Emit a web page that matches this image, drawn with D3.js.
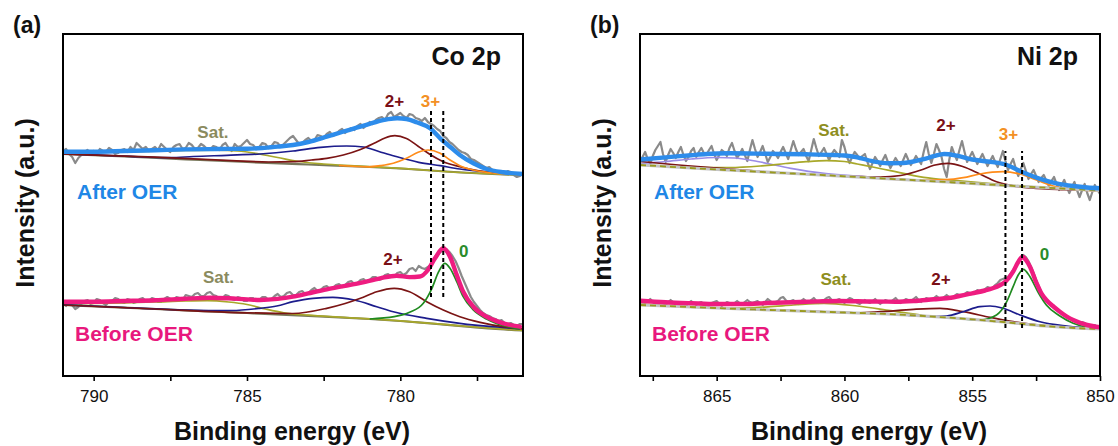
<!DOCTYPE html>
<html><head><meta charset="utf-8">
<script src="https://cdn.jsdelivr.net/npm/d3@7"></script>
<style>
body{margin:0;background:#fff;}
text{font-family:"Liberation Sans",Arial,sans-serif;}
</style>
</head><body>
<svg id="chart" width="1118" height="446"></svg>
<script>
// ---------------- DATA (binding energy eV, intensity a.u.) ----------------
// Panel (a) Co 2p
const coTicks = [790, 787.5, 785, 782.5, 780, 777.5];
const coRawAfter = [[791.0,225],[790.9,227],[790.8,222],[790.7,219],[790.6,213],[790.5,218],[790.4,221],[790.3,224],[790.2,226],[790.1,223],[790.0,225],[789.9,222],[789.8,227],[789.7,225],[789.6,224],[789.5,228],[789.4,226],[789.3,222],[789.2,223],[789.1,226],[789.0,227],[788.9,224],[788.8,229],[788.7,226],[788.6,233],[788.5,230],[788.4,227],[788.3,229],[788.2,225],[788.1,227],[788.0,229],[787.9,226],[787.8,232],[787.7,229],[787.6,226],[787.5,224],[787.4,229],[787.3,231],[787.2,232],[787.1,227],[787.0,228],[786.9,233],[786.8,231],[786.7,227],[786.6,228],[786.5,232],[786.4,230],[786.3,227],[786.2,226],[786.1,230],[786.0,229],[785.9,226],[785.8,231],[785.7,233],[785.6,228],[785.5,225],[785.4,232],[785.3,229],[785.2,230],[785.1,233],[785.0,236],[784.9,232],[784.8,231],[784.7,227],[784.6,229],[784.5,233],[784.4,232],[784.3,228],[784.2,230],[784.1,234],[784.0,233],[783.9,229],[783.8,232],[783.7,235],[783.6,238],[783.5,240],[783.4,236],[783.3,232],[783.2,233],[783.1,236],[783.0,238],[782.9,235],[782.8,236],[782.7,241],[782.6,240],[782.5,238],[782.4,242],[782.3,244],[782.2,240],[782.1,242],[782.0,245],[781.9,247],[781.8,243],[781.7,246],[781.6,248],[781.5,246],[781.4,250],[781.3,252],[781.2,248],[781.1,251],[781.0,254],[780.9,252],[780.8,256],[780.7,258],[780.6,259],[780.5,256],[780.4,262],[780.3,264],[780.2,259],[780.1,261],[780.0,263],[779.9,260],[779.8,258],[779.7,262],[779.6,261],[779.5,258],[779.4,257],[779.3,255],[779.2,258],[779.1,254],[779.0,252],[778.9,250],[778.8,247],[778.7,245],[778.6,240],[778.5,238],[778.4,234],[778.3,232],[778.2,229],[778.1,226],[778.0,224],[777.9,223],[777.8,221],[777.7,217],[777.6,216],[777.5,214],[777.4,212],[777.3,210],[777.2,208],[777.1,209],[777.0,206],[776.9,204],[776.8,205],[776.7,203],[776.6,202],[776.5,205],[776.4,204],[776.3,201],[776.2,199],[776.1,200],[776.0,203]];
const coEnvAfter = [[791,224.3],[790,224.3],[789,225],[788,225.8],[787,226.6],[786,227],[785,227.3],[784.5,228],[784,229.4],[783.5,231],[783,234],[782.4,239.3],[781.9,244],[781.3,249.3],[780.8,254],[780.4,256.8],[780.1,257.8],[779.8,257],[779.47,253.7],[779.03,247.7],[778.7,237.7],[778.38,229.3],[778.06,221],[777.62,212.7],[777.19,207],[776.64,203.7],[776,202]];
const coBgAfter = [[791,222],[789,219.5],[787,216.7],[785,214],[783,211.5],[781,209],[780,207.5],[779,205.5],[778,203.5],[777,202],[776,201]];
const coSatAfter = [[791,223.3],[790,223.7],[789,224.2],[788,224.8],[787,225.5],[786,225.8],[785.3,225],[784.6,222],[784,218.5],[783.3,214.5],[782.5,212],[781.5,210.2],[780,207.6],[778,203.5],[776,201]];
const coNavyAfter = [[791,222.2],[789,219.8],[787.5,218.3],[786.75,219.5],[785.66,220.7],[784.58,222],[783.5,225],[782.6,228.7],[781.75,230],[781.2,229],[780.7,224.5],[780.2,220],[779.4,213.7],[778.7,210.3],[778.06,207],[777,203.7],[776.1,201.7]];
const co2After = [[791,222],[788,218.8],[785.5,215.4],[784.3,214],[783.5,214.3],[782.9,216],[782.4,217.7],[781.86,221],[781.3,226.5],[780.8,233.5],[780.5,238],[780.18,240.3],[779.8,237.5],[779.42,229.8],[779.03,221.5],[778.6,214.3],[778.06,209.3],[777.4,205],[776.64,202.7],[776,201.5]];
const co3After = [[782,210.5],[781,209.2],[780.66,210.3],[780.23,212.7],[779.8,217.7],[779.42,223.7],[779.1,226],[778.7,222.7],[778.38,216],[778.06,210.3],[777.62,206],[777,203],[776,201.2]];

const coRawBefore = [[791.0,73],[790.9,70],[790.8,75],[790.7,71],[790.6,67],[790.5,69],[790.4,72],[790.3,75],[790.2,76],[790.1,72],[790.0,73],[789.9,77],[789.8,76],[789.7,73],[789.6,71],[789.5,74],[789.4,75],[789.3,78],[789.2,77],[789.1,74],[789.0,73],[788.9,77],[788.8,76],[788.7,73],[788.6,74],[788.5,77],[788.4,78],[788.3,75],[788.2,75],[788.1,78],[788.0,77],[787.9,74],[787.8,74],[787.7,77],[787.6,79],[787.5,77],[787.4,76],[787.3,79],[787.2,78],[787.1,76],[787.0,81],[786.9,80],[786.8,79],[786.7,82],[786.6,83],[786.5,80],[786.4,80],[786.3,83],[786.2,84],[786.1,81],[786.0,80],[785.9,77],[785.8,78],[785.7,81],[785.6,80],[785.5,77],[785.4,76],[785.3,79],[785.2,78],[785.1,75],[785.0,75],[784.9,78],[784.8,78],[784.7,75],[784.6,76],[784.5,79],[784.4,79],[784.3,76],[784.2,77],[784.1,80],[784.0,82],[783.9,79],[783.8,80],[783.7,83],[783.6,84],[783.5,81],[783.4,81],[783.3,84],[783.2,85],[783.1,82],[783.0,83],[782.9,86],[782.8,88],[782.7,85],[782.6,86],[782.5,89],[782.4,90],[782.3,87],[782.2,88],[782.1,91],[782.0,92],[781.9,89],[781.8,91],[781.7,94],[781.6,95],[781.5,92],[781.4,93],[781.3,96],[781.2,97],[781.1,94],[781.0,96],[780.9,99],[780.8,99],[780.7,96],[780.6,97],[780.5,101],[780.4,102],[780.3,99],[780.2,99],[780.1,103],[780.0,104],[779.9,101],[779.8,103],[779.7,107],[779.6,108],[779.5,105],[779.4,110],[779.3,108],[779.2,107],[779.1,109],[779.0,111],[778.9,116],[778.8,120],[778.7,124],[778.6,126],[778.5,127],[778.4,124],[778.3,120],[778.2,115],[778.1,108],[778.0,100],[777.9,93],[777.8,86],[777.7,79],[777.6,74],[777.5,70],[777.4,66],[777.3,63],[777.2,61],[777.1,60],[777.0,58],[776.9,57],[776.8,55],[776.7,56],[776.6,53],[776.5,52],[776.4,53],[776.3,51],[776.2,50],[776.1,52],[776.0,52]];
const coEnvBefore = [[791,74.3],[790,74.3],[789,75],[788,75.8],[787,77.3],[786.2,78.3],[785.6,77.7],[785,76.6],[784.58,76],[784,77.1],[783.5,79.3],[783,82.7],[782.4,86.7],[781.8,90.2],[781.3,93.2],[780.66,97.7],[780.12,100.3],[779.7,98.9],[779.36,99.5],[779.1,106],[778.87,117.7],[778.6,127.7],[778.38,119.3],[778.16,101],[777.95,84.3],[777.62,69.3],[777.19,59.3],[776.64,52.7],[776.1,49.3]];
const coBgBefore = [[791,71],[789,68.3],[787,65.7],[785,63],[783,60.2],[781,57],[780,55],[779,52.5],[778,49.8],[777,47.3],[776,45.5]];
const coSatBefore = [[791,72],[790,72.5],[789,73.2],[788,74],[787,75],[786.3,75.3],[785.6,74],[785,71.5],[784.4,67],[783.8,63.2],[783,60.8],[782,58.8],[780,55.2],[778,50],[776,45.5]];
const coNavyBefore = [[791,71.2],[789,68.5],[787,66],[785.5,65.5],[784.58,67.7],[784.03,70],[783.5,74.3],[782.85,77.7],[782.2,78.7],[781.5,76],[780.77,69.3],[780.23,64.3],[779.14,57.7],[778.06,52.7],[777,49.3],[776.1,47.3]];
const co2Before = [[791,71],[788,67],[785,63.2],[783.5,62.5],[782.4,67.7],[781.8,72.5],[781.3,77.7],[780.77,84.3],[780.2,87.7],[779.7,84.3],[779.14,74.3],[778.6,66],[778.06,59.3],[777.4,53.7],[776.64,49.3],[776,47]];
const co0Before = [[781,57],[780.2,59.3],[779.7,63.7],[779.25,72.7],[778.97,87.7],[778.75,104.3],[778.55,112.7],[778.38,107.7],[778.16,94.3],[777.95,79.3],[777.62,66],[777.19,57],[776.64,50.3],[776.1,47]];
const coMarkers = [779.0, 778.6];          // dashed reference energies
const coMarkerSpan = [79, 265];            // intensity span of dashed lines

// Panel (b) Ni 2p
const niTicks = [867.5, 865, 862.5, 860, 857.5, 855, 852.5, 850];
const niRawAfter = [[868.0,214],[867.9,219],[867.8,224],[867.7,217],[867.6,212],[867.5,220],[867.4,226],[867.3,230],[867.2,234],[867.1,222],[867.0,214],[866.9,221],[866.8,227],[866.7,223],[866.6,218],[866.5,224],[866.4,229],[866.3,221],[866.2,215],[866.1,219],[866.0,225],[865.9,228],[865.8,219],[865.7,224],[865.6,228],[865.5,223],[865.4,221],[865.3,226],[865.2,230],[865.1,222],[865.0,216],[864.9,221],[864.8,226],[864.7,224],[864.6,220],[864.5,228],[864.4,233],[864.3,225],[864.2,218],[864.1,222],[864.0,227],[863.9,221],[863.8,215],[863.7,226],[863.6,236],[863.5,227],[863.4,219],[863.3,224],[863.2,230],[863.1,222],[863.0,214],[862.9,219],[862.8,225],[862.7,222],[862.6,218],[862.5,224],[862.4,229],[862.3,223],[862.2,217],[862.1,226],[862.0,235],[861.9,227],[861.8,221],[861.7,224],[861.6,227],[861.5,220],[861.4,215],[861.3,226],[861.2,237],[861.1,228],[861.0,220],[860.9,224],[860.8,228],[860.7,222],[860.6,216],[860.5,222],[860.4,226],[860.3,223],[860.2,219],[860.1,236],[860.0,229],[859.9,219],[859.8,213],[859.7,219],[859.6,224],[859.5,221],[859.4,217],[859.3,220],[859.2,222],[859.1,214],[859.0,207],[858.9,213],[858.8,219],[858.7,215],[858.6,210],[858.5,216],[858.4,221],[858.3,214],[858.2,208],[858.1,213],[858.0,218],[857.9,214],[857.8,210],[857.7,216],[857.6,222],[857.5,216],[857.4,211],[857.3,215],[857.2,220],[857.1,216],[857.0,212],[856.9,224],[856.8,234],[856.7,222],[856.6,213],[856.5,222],[856.4,232],[856.3,226],[856.2,219],[856.1,207],[856.0,199],[855.9,216],[855.8,229],[855.7,222],[855.6,216],[855.5,226],[855.4,235],[855.3,224],[855.2,214],[855.1,219],[855.0,224],[854.9,218],[854.8,212],[854.7,217],[854.6,222],[854.5,216],[854.4,210],[854.3,215],[854.2,220],[854.1,214],[854.0,209],[853.9,217],[853.8,225],[853.7,215],[853.6,206],[853.5,212],[853.4,217],[853.3,208],[853.2,200],[853.1,207],[853.0,213],[852.9,205],[852.8,197],[852.7,202],[852.6,206],[852.5,200],[852.4,194],[852.3,198],[852.2,201],[852.1,195],[852.0,190],[851.9,195],[851.8,199],[851.7,192],[851.6,186],[851.5,191],[851.4,196],[851.3,189],[851.2,183],[851.1,189],[851.0,194],[850.9,186],[850.8,179],[850.7,186],[850.6,192],[850.5,183],[850.4,176],[850.3,184],[850.2,191],[850.1,186],[850.0,182]];
const niEnvAfter = [[868,216.5],[867,218.6],[866,220.8],[865.4,222],[864.5,222.7],[863.5,222.4],[862.5,222],[861.5,221.7],[860.4,221],[860,220.5],[859.5,218.7],[858.9,214.8],[858.3,212.8],[857.8,212.9],[857.3,214.5],[856.9,216.8],[856.5,219.8],[856.1,222],[855.6,220.3],[855,216.5],[854.4,214.5],[853.7,211.5],[853.07,204.3],[852.35,197.2],[851.7,192.7],[851.05,190],[850.5,188.5],[850,187.7]];
const niBgAfter = [[868,211],[865,206.5],[862,202.5],[859,198.3],[856,194],[853,189.5],[850,185.5]];
const niLavAfter = [[868,212.5],[867,214.5],[866,217],[865,218.5],[864.3,218],[863.4,214.5],[862.1,207.7],[860.8,202.7],[859.5,200],[858.2,197.5],[856,194],[853,189.5],[850,185.5]];
const niSatAfter = [[868,211.5],[866,209],[864.5,208.5],[863.3,210],[862.3,212.5],[861.5,214.3],[860.7,215.3],[860,214.5],[859.5,212],[858.8,208.5],[858.2,205.3],[856.9,198.7],[855.6,195.3],[853,189.8],[850,185.5]];
const ni2After = [[868,214.5],[866.5,211],[865,208],[863,204],[861,201],[859.5,199.5],[858.6,199],[857.8,200.5],[857,206],[856.5,210.7],[855.95,212.7],[855.35,209.3],[854.7,202],[854.05,194.3],[853.4,190.2],[852.7,188],[851.4,186.3],[850,185.5]];
const ni3After = [[858.5,197.5],[857.3,195.8],[856,196.3],[855.35,198.3],[854.7,202],[853.8,204.3],[853.13,202],[852.48,196],[851.83,190],[851.05,186.7],[850,185.3]];

const niRawBefore = [[868.0,76],[867.9,74],[867.8,73],[867.7,75],[867.6,77],[867.5,74],[867.4,72],[867.3,74],[867.2,75],[867.1,73],[867.0,71],[866.9,74],[866.8,76],[866.7,74],[866.6,72],[866.5,73],[866.4,74],[866.3,72],[866.2,70],[866.1,73],[866.0,75],[865.9,73],[865.8,71],[865.7,73],[865.6,74],[865.5,71],[865.4,69],[865.3,71],[865.2,73],[865.1,74],[865.0,75],[864.9,72],[864.8,70],[864.7,72],[864.6,74],[864.5,73],[864.4,71],[864.3,73],[864.2,75],[864.1,73],[864.0,72],[863.9,74],[863.8,76],[863.7,74],[863.6,73],[863.5,74],[863.4,75],[863.3,73],[863.2,71],[863.1,74],[863.0,77],[862.9,75],[862.8,73],[862.7,74],[862.6,75],[862.5,78],[862.4,79],[862.3,76],[862.2,74],[862.1,75],[862.0,76],[861.9,74],[861.8,72],[861.7,75],[861.6,77],[861.5,75],[861.4,74],[861.3,76],[861.2,78],[861.1,75],[861.0,73],[860.9,75],[860.8,76],[860.7,78],[860.6,79],[860.5,76],[860.4,74],[860.3,76],[860.2,77],[860.1,75],[860.0,73],[859.9,76],[859.8,78],[859.7,77],[859.6,75],[859.5,73],[859.4,72],[859.3,74],[859.2,76],[859.1,74],[859.0,73],[858.9,75],[858.8,77],[858.7,74],[858.6,72],[858.5,74],[858.4,76],[858.3,75],[858.2,74],[858.1,76],[858.0,78],[857.9,75],[857.8,73],[857.7,75],[857.6,77],[857.5,76],[857.4,75],[857.3,77],[857.2,79],[857.1,76],[857.0,74],[856.9,76],[856.8,78],[856.7,77],[856.6,76],[856.5,78],[856.4,80],[856.3,78],[856.2,77],[856.1,79],[856.0,81],[855.9,79],[855.8,78],[855.7,80],[855.6,82],[855.5,81],[855.4,80],[855.3,82],[855.2,84],[855.1,83],[855.0,82],[854.9,84],[854.8,86],[854.7,85],[854.6,85],[854.5,87],[854.4,89],[854.3,88],[854.2,88],[854.1,91],[854.0,93],[853.9,96],[853.8,97],[853.7,98],[853.6,99],[853.5,102],[853.4,106],[853.3,110],[853.2,114],[853.1,118],[853.0,121],[852.9,119],[852.8,115],[852.7,109],[852.6,103],[852.5,96],[852.4,90],[852.3,84],[852.2,80],[852.1,76],[852.0,73],[851.9,70],[851.8,68],[851.7,66],[851.6,64],[851.5,62],[851.4,60],[851.3,58],[851.2,57],[851.1,57],[851.0,56],[850.9,54],[850.8,52],[850.7,54],[850.6,53],[850.5,50],[850.4,49],[850.3,51],[850.2,51],[850.1,49],[850.0,48]];
const niEnvBefore = [[868,75.3],[867,73.8],[866,72.8],[865,72],[864,72],[863,73],[862,73.8],[861,74.6],[860.2,75],[859,74.5],[858,74.3],[857.3,75],[856.5,76.7],[856,77.7],[855.5,80],[855,82.7],[854.5,85.5],[854.2,87.7],[853.9,91],[853.7,94.3],[853.4,104.3],[853.2,114],[853.03,119.3],[852.9,116],[852.74,109.3],[852.48,92.7],[852.3,83],[852.1,76],[851.8,69],[851.57,64.3],[851.3,59.5],[851.05,56],[850.5,51],[850,48.7]];
const niBgBefore = [[868,71],[864,67],[860,63.5],[858.6,62.3],[856,58.5],[854,54.5],[853,52],[852,49.7],[851,48],[850,47]];
const niSatBefore = [[868,72],[866.5,69.8],[864.5,68],[863,69.2],[862,71],[860.8,72.7],[859.5,70],[858.2,65.3],[856.9,60.5],[855.5,57.5],[853,52.2],[850,47]];
const ni2Before = [[868,71.5],[864,67],[861,64.3],[859.5,63.2],[858.6,64.3],[857.3,66.7],[856.26,67.7],[855.35,64.3],[854.3,58.7],[853.4,54.3],[852.1,50],[850,47.3]];
const niNavyBefore = [[857.5,60.5],[856.5,59.5],[856,60],[855.35,64.3],[854.7,69.3],[854.3,70],[853.8,67.7],[853.13,61],[852.35,54.3],[851.3,50],[850,47.3]];
const ni0Before = [[855.5,57.5],[854.7,56],[854.05,61],[853.65,74.3],[853.4,89.3],[853.2,101],[853.0,106.7],[852.74,99.3],[852.4,82.7],[852.1,71],[851.57,60],[851.05,52.7],[850.5,48.7],[850,47.3]];
const niMarkers = [853.7, 853.05];
const niMarkerSpan = [48, 225];

// peak annotations: [text, energy, intensity, kind]
const coNotes = [["Sat.",786.11,238,"sat"],["2+",780.19,269,"c2"],["3+",779.02,269,"c3"],["Sat.",785.93,93,"sat"],["2+",780.24,111,"c2"],["0",777.93,119,"c0"]];
const niNotes = [["Sat.",860.41,240,"satB"],["2+",856.03,245,"c2"],["3+",853.58,236,"c3"],["Sat.",860.33,91,"satB"],["2+",856.22,91,"c2"],["0",852.17,116,"c0"]];

// ---------------- STYLE / LAYOUT ----------------
const C = {
  raw:"#8a8a8a", after:"#2d8ceb", afterText:"#1f87e6", before:"#ee1c80", beforeText:"#e8187d",
  navy:"#1c1c8c", c2:"#7b1414", c3:"#ff8c1a", c0:"#1f8a1f", sat:"#a8a82a", lav:"#9b8ce6",
  bgA:"#77775a", satLabelA:"#8b8b5e", satLabelB:"#8e8e20", c2Label:"#7a1016", c3Label:"#f39024", c0Label:"#2b8c2b"
};
const TOP = 34, BOTTOM = 376;
const yDomain = [0, 342];

const svg = d3.select("#chart");

function drawPanel(p) {
  const x = d3.scaleLinear().domain(p.domain).range([p.left, p.right]);
  const y = d3.scaleLinear().domain(yDomain).range([BOTTOM, TOP]);
  const g = svg.append("g");
  const clipId = "clip-" + p.id;
  g.append("clipPath").attr("id", clipId).append("rect")
    .attr("x", p.left).attr("y", TOP).attr("width", p.right - p.left).attr("height", BOTTOM - TOP);
  const plot = g.append("g").attr("clip-path", `url(#${clipId})`);
  const lin = d3.line().x(d => x(d[0])).y(d => y(d[1]));
  const smooth = d3.line().x(d => x(d[0])).y(d => y(d[1])).curve(d3.curveMonotoneX);

  // raw data (gray)
  p.raw.forEach(r => plot.append("path").attr("d", lin(r)).attr("fill","none")
      .attr("stroke", C.raw).attr("stroke-width", 2.2).attr("stroke-linejoin","round"));
  const drawBg = () => p.bg.forEach(b => {
    if (p.id === "a") {
      plot.append("path").attr("d", smooth(b)).attr("fill","none").attr("stroke", C.bgA).attr("stroke-width", 2.2);
    } else {
      plot.append("path").attr("d", smooth(b)).attr("fill","none").attr("stroke", "#c4c4c4").attr("stroke-width", 3);
      plot.append("path").attr("d", smooth(b)).attr("fill","none").attr("stroke", "#9a9a1e").attr("stroke-width", 1.8).attr("stroke-dasharray","6,4");
    }
  });
  if (p.id === "a") drawBg();
  // components
  p.comps.forEach(c => plot.append("path").attr("d", smooth(c.data)).attr("fill","none")
      .attr("stroke", c.color).attr("stroke-width", 1.7));
  if (p.id !== "a") drawBg();
  // envelopes
  p.env.forEach(e => plot.append("path").attr("d", smooth(e.data)).attr("fill","none")
      .attr("stroke", e.color).attr("stroke-width", 4.4).attr("stroke-linejoin","round").attr("stroke-linecap","round"));
  // dashed markers
  p.markers.forEach(m => g.append("line").attr("x1", x(m)).attr("x2", x(m))
      .attr("y1", y(p.markerSpan[0])).attr("y2", y(p.markerSpan[1]))
      .attr("stroke","#000").attr("stroke-width",2).attr("stroke-dasharray","4,3"));
  // frame
  g.append("rect").attr("x", p.left).attr("y", TOP).attr("width", p.right - p.left).attr("height", BOTTOM - TOP)
    .attr("fill","none").attr("stroke","#000").attr("stroke-width",2);
  // x axis
  const axis = d3.axisBottom(x).tickValues(p.ticks).tickSize(5).tickPadding(9)
    .tickFormat(d => (d % 5 === 0 ? d3.format("d")(d) : ""));
  const ax = g.append("g").attr("transform", `translate(0,${BOTTOM})`).call(axis);
  ax.select(".domain").remove();
  ax.selectAll(".tick line").attr("stroke","#000").attr("stroke-width",1.6);
  ax.selectAll(".tick text").attr("font-size",17).attr("fill","#111")
    .attr("font-family",'"Liberation Sans",Arial,sans-serif');
  // axis titles
  g.append("text").attr("x", (p.left + p.right) / 2 - 1).attr("y", 440).attr("text-anchor","middle")
    .attr("font-size",25).attr("font-weight","bold").attr("fill","#111").text("Binding energy (eV)");
  g.append("text").attr("transform", `translate(${p.left - 29},203) rotate(-90)`).attr("text-anchor","middle")
    .attr("font-size",25).attr("font-weight","bold").attr("fill","#111").text("Intensity (a.u.)");
  // panel letter & element label
  g.append("text").attr("x", p.left - 50).attr("y", 33).attr("font-size",23).attr("font-weight","bold").attr("fill","#111").text(p.letter);
  g.append("text").attr("x", p.right - 22).attr("y", 64.5).attr("text-anchor","end").attr("font-size",25).attr("font-weight","bold").attr("fill","#111").text(p.title);
  // series labels
  g.append("text").attr("x", p.left + 14).attr("y", 199).attr("font-size",21).attr("font-weight","bold").attr("fill",C.afterText).text("After OER");
  g.append("text").attr("x", p.left + 12).attr("y", 341).attr("font-size",21).attr("font-weight","bold").attr("fill",C.beforeText).text("Before OER");
  // peak annotations
  const noteColor = {sat:C.satLabelA, satB:C.satLabelB, c2:C.c2Label, c3:C.c3Label, c0:C.c0Label};
  p.notes.forEach(n => g.append("text").attr("x", x(n[1])).attr("y", y(n[2])).attr("text-anchor","middle")
      .attr("font-size",17).attr("font-weight","bold").attr("fill", noteColor[n[3]]).text(n[0]));
}

drawPanel({
  id:"a", letter:"(a)", title:"Co 2p", domain:[791,776], left:63, right:523, ticks:coTicks,
  raw:[coRawAfter, coRawBefore], bg:[coBgAfter, coBgBefore],
  comps:[
    {data:coSatAfter,color:C.sat},{data:coNavyAfter,color:C.navy},{data:co2After,color:C.c2},{data:co3After,color:C.c3},
    {data:coSatBefore,color:C.sat},{data:coNavyBefore,color:C.navy},{data:co2Before,color:C.c2},{data:co0Before,color:C.c0}
  ],
  env:[{data:coEnvAfter,color:C.after},{data:coEnvBefore,color:C.before}],
  markers:coMarkers, markerSpan:coMarkerSpan, notes:coNotes
});
drawPanel({
  id:"b", letter:"(b)", title:"Ni 2p", domain:[868,850], left:640, right:1100, ticks:niTicks,
  raw:[niRawAfter, niRawBefore], bg:[niBgAfter, niBgBefore],
  comps:[
    {data:niLavAfter,color:C.lav},{data:niSatAfter,color:C.sat},{data:ni2After,color:C.c2},{data:ni3After,color:C.c3},
    {data:niSatBefore,color:C.sat},{data:ni2Before,color:C.c2},{data:niNavyBefore,color:C.navy},{data:ni0Before,color:C.c0}
  ],
  env:[{data:niEnvAfter,color:C.after},{data:niEnvBefore,color:C.before}],
  markers:niMarkers, markerSpan:niMarkerSpan, notes:niNotes
});
</script>
</body></html>
